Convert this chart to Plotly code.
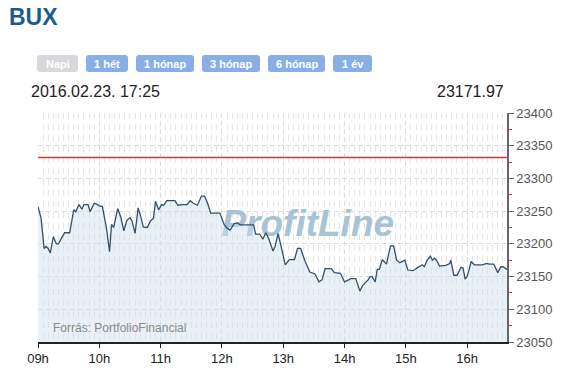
import plotly.graph_objects as go

DAY = "2016-02-23"
times = ["09:00","09:03","09:06","09:08","09:10","09:12","09:15","09:18","09:20","09:23","09:26","09:31",
         "09:35","09:37","09:40","09:43","09:45","09:49","09:51","09:55","09:57","10:00","10:03","10:07",
         "10:10","10:12","10:14","10:18","10:21","10:24","10:27","10:30","10:32","10:35","10:38","10:41",
         "10:43","10:47","10:50","10:53","10:55","10:58","11:01","11:03","11:06","11:14","11:17","11:21",
         "11:26","11:29","11:32","11:36","11:40","11:43","11:46","11:49","11:58","12:02","12:05","12:08",
         "12:12","12:15","12:18","12:31","12:33","12:37","12:40","12:43","12:46","12:50","12:52","12:55",
         "12:57","13:02","13:06","13:11","13:14","13:17","13:21","13:26","13:31","13:35","13:38","13:41",
         "13:47","13:50","13:56","14:00","14:04","14:06","14:11","14:15","14:18","14:23","14:25","14:27",
         "14:30","14:32","14:34","14:37","14:41","14:45","14:48","14:51","14:54","14:59","15:02","15:07",
         "15:12","15:16","15:18","15:21","15:24","15:26","15:28","15:30","15:33","15:39","15:43","15:44",
         "15:47","15:50","15:54","15:56","15:58","16:00","16:04","16:07","16:15","16:19","16:22","16:26",
         "16:30","16:33","16:35","16:39"]
values = [23257,23239,23193,23196,23193,23186,23211,23200,23200,23208,23217,23217,
          23252,23249,23260,23253,23260,23260,23249,23262,23261,23258,23257,23224,
          23188,23230,23225,23254,23241,23220,23236,23240,23235,23216,23255,23239,
          23226,23225,23235,23239,23265,23252,23260,23259,23266,23266,23259,23260,
          23260,23266,23262,23259,23273,23273,23262,23247,23247,23230,23224,23221,
          23231,23232,23229,23229,23215,23215,23207,23217,23207,23189,23196,23216,
          23201,23168,23176,23176,23193,23193,23175,23157,23154,23142,23145,23162,
          23162,23156,23155,23142,23145,23147,23147,23128,23137,23145,23150,23150,
          23142,23161,23161,23176,23169,23197,23197,23175,23171,23175,23160,23159,
          23164,23168,23165,23175,23181,23175,23178,23175,23166,23167,23170,23175,
          23152,23152,23164,23163,23146,23150,23173,23168,23168,23170,23169,23169,
          23156,23165,23165,23161]
PREV_CLOSE = 23332
Y_RANGE = [23050, 23400]
X_START, X_END = "09:00", "16:39"
TITLE = "BUX"
STAMP = "2016.02.23. 17:25"
LAST = "23171.97"
SOURCE = "Forrás: PortfolioFinancial"
WATERMARK = "ProfitLine"
buttons = ["Napi", "1 hét", "1 hónap", "3 hónap", "6 hónap", "1 év"]

x = [f"{DAY} {t}" for t in times]

# plot area in pixels
L, R, T, B = 38, 507, 113, 342
W, H = 565, 371
def px(v): return (v - L) / (R - L)
def py(v): return (B - v) / (B - T)

fig = go.Figure()
fig.add_trace(go.Scatter(x=[f"{DAY} 13:24"], y=[23226], mode="text", text=[WATERMARK],
                         textfont=dict(family="Arial, Liberation Sans", size=37, color="#a8c4d4",
                                       weight="bold", style="italic"),
                         hoverinfo="skip", showlegend=False))
fig.add_trace(go.Scatter(x=x, y=values, mode="lines", fill="tozeroy",
                         fillcolor="rgba(206,222,237,0.45)",
                         line=dict(color="#34506b", width=1.3), showlegend=False))
fig.add_hline(y=PREV_CLOSE, line=dict(color="#d23a3a", width=1.5))

fig.update_layout(
    width=W, height=H, margin=dict(l=L, r=W - R, t=T, b=H - B),
    paper_bgcolor="white", plot_bgcolor="white",
    font=dict(family="Arial, Liberation Sans", color="#222"),
    xaxis=dict(type="date", range=[f"{DAY} {X_START}", f"{DAY} {X_END}"],
               tick0=f"{DAY} 09:00", dtick=3600000, tickformat="%Hh",
               showgrid=True, gridcolor="#dcdcdc", griddash="5px,3px", gridwidth=1,
               showline=True, linecolor="#222", linewidth=1.5,
               ticks="outside", ticklen=4, tickcolor="#222",
               tickfont=dict(size=13, color="#222"), zeroline=False, automargin=False,
               minor=dict(dtick=300000, showgrid=True, gridcolor="#e6e6e6",
                          griddash="6px,5px", gridwidth=1, ticks="")),
    yaxis=dict(side="right", range=Y_RANGE, dtick=50, tickformat="d",
               showgrid=True, gridcolor="#dcdcdc", griddash="5px,3px",
               showline=True, linecolor="#666", linewidth=1.5,
               ticks="outside", ticklen=5, tickcolor="#666",
               tickfont=dict(size=13, color="#555"), zeroline=False, automargin=False,
               minor=dict(dtick=25, ticks="outside", ticklen=3, tickcolor="#e03030",
                          showgrid=False)),
)

ann = []
ann.append(dict(text=f"<b>{TITLE}</b>", x=px(7), y=py(17), xref="paper", yref="paper",
                xanchor="left", yanchor="middle", showarrow=False,
                font=dict(size=23, color="#1d5b8c")))
ann.append(dict(text=STAMP, x=px(29), y=py(92), xref="paper", yref="paper",
                xanchor="left", yanchor="middle", showarrow=False,
                font=dict(size=16, color="#222")))
ann.append(dict(text=LAST, x=px(506), y=py(92), xref="paper", yref="paper",
                xanchor="right", yanchor="middle", showarrow=False,
                font=dict(size=16, color="#222")))
ann.append(dict(text=SOURCE, x=px(51), y=py(328), xref="paper", yref="paper",
                xanchor="left", yanchor="middle", showarrow=False,
                font=dict(size=12, color="#8a8a8a")))

btn_x = [(37, 78), (86, 128), (136, 194), (202, 260), (268, 325), (333, 372)]
shapes = []
for i, (label, (x0, x1)) in enumerate(zip(buttons, btn_x)):
    col = "#d8d8dc" if i == 0 else "#88afe5"
    r = 3
    y0, y1 = 55, 72
    path = (f"M {px(x0+r)} {py(y0)} L {px(x1-r)} {py(y0)} Q {px(x1)} {py(y0)} {px(x1)} {py(y0+r)} "
            f"L {px(x1)} {py(y1-r)} Q {px(x1)} {py(y1)} {px(x1-r)} {py(y1)} "
            f"L {px(x0+r)} {py(y1)} Q {px(x0)} {py(y1)} {px(x0)} {py(y1-r)} "
            f"L {px(x0)} {py(y0+r)} Q {px(x0)} {py(y0)} {px(x0+r)} {py(y0)} Z")
    shapes.append(dict(type="path", path=path, xref="paper", yref="paper",
                       fillcolor=col, line=dict(width=0), layer="above"))
    ann.append(dict(text=f"<b>{label}</b>", x=px((x0 + x1) / 2), y=py(63.5),
                    xref="paper", yref="paper", xanchor="center", yanchor="middle",
                    showarrow=False, font=dict(size=11, color="white")))

fig.update_layout(annotations=ann, shapes=list(fig.layout.shapes) + shapes)
fig.write_html("out.html", config={"displayModeBar": False},
               post_script="document.body.style.margin='0';")
